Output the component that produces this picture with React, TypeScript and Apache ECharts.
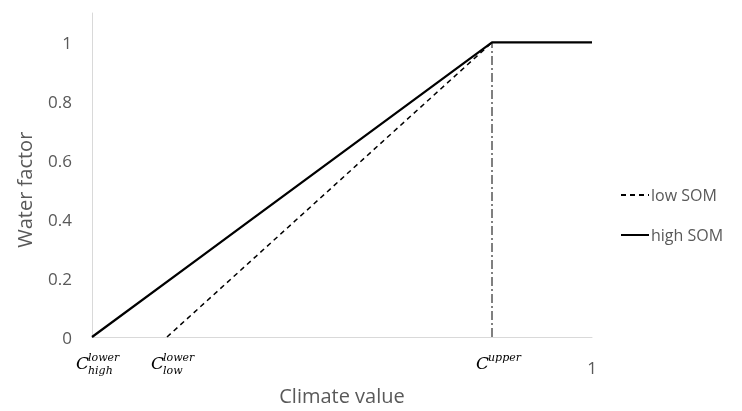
import React, { useEffect, useRef } from "react";
import * as echarts from "echarts";

const highSOM: [number, number][] = [[0, 0], [0.8, 1], [1, 1]];
const lowSOM: [number, number][] = [[0.15, 0], [0.8, 1]];
const upperLine: [number, number][] = [[0.8, 0], [0.8, 1]];
const cLabels = [
  { x: 0, sup: "lower", sub: "high" },
  { x: 0.15, sup: "lower", sub: "low" },
  { x: 0.8, sup: "upper", sub: "" },
];
const yTicks = [0, 0.2, 0.4, 0.6, 0.8, 1];
const xTicks = [1];
const yTitle = "Water factor";
const xTitle = "Climate value";

const GRAY = "#595959";
const FONT = "'Open Sans', 'Noto Sans', sans-serif";

export default function App() {
  const ref = useRef<HTMLDivElement>(null);
  useEffect(() => {
    if (!ref.current) return;
    const chart = echarts.init(ref.current, undefined, { renderer: "svg" });
    const option: any = {
      animation: false,
      textStyle: { fontFamily: FONT },
      grid: { left: 92, right: 150, top: 13, bottom: 74 },
      legend: {
        orient: "vertical",
        left: 615,
        top: 182,
        itemGap: 24,
        itemWidth: 28,
        itemHeight: 14,
        itemStyle: { opacity: 0 },
        textStyle: { color: GRAY, fontSize: 16, fontFamily: FONT, padding: [0, 0, 0, -3] },
        data: ["low SOM", "high SOM"],
      },
      xAxis: {
        type: "value",
        min: 0,
        max: 1,
        name: xTitle,
        nameLocation: "middle",
        nameGap: 48,
        nameTextStyle: { color: GRAY, fontSize: 20 },
        axisLine: { show: true, lineStyle: { color: "#d9d9d9", width: 1 } },
        axisTick: { show: false },
        splitLine: { show: false },
        axisLabel: {
          customValues: xTicks,
          margin: 22,
          color: GRAY,
          fontSize: 17,
          formatter: (v: number) => String(v),
        },
      },
      yAxis: {
        type: "value",
        min: 0,
        max: 1.1,
        interval: 0.2,
        axisLine: { show: true, lineStyle: { color: "#d9d9d9", width: 1 } },
        axisTick: { show: false },
        splitLine: { show: false },
        axisLabel: {
          customValues: yTicks,
          margin: 20,
          color: GRAY,
          fontSize: 17,
          formatter: (v: number) => String(Math.round(v * 10) / 10),
        },
      },
      series: [
        {
          name: "low SOM",
          type: "line",
          data: lowSOM,
          symbol: "none",
          lineStyle: { color: "#000", width: 1.5, type: [5, 4] },
          itemStyle: { color: "#000" },
          z: 3,
        },
        {
          name: "high SOM",
          type: "line",
          data: highSOM,
          symbol: "none",
          lineStyle: { color: "#000", width: 2.2 },
          itemStyle: { color: "#000" },
          z: 4,
        },
        {
          name: "upper",
          type: "line",
          data: upperLine,
          symbol: "none",
          lineStyle: { color: "#000", width: 1, type: [9, 3, 2, 3] },
          z: 2,
        },
      ],
    };
    chart.setOption(option);
    const graphics: any[] = [];
    const mid = chart.convertToPixel({ gridIndex: 0 }, [0, 0.5]) as number[];
    graphics.push({
      type: "text",
      x: mid[0] - 68,
      y: mid[1],
      rotation: Math.PI / 2,
      style: {
        text: yTitle,
        font: `20px ${FONT}`,
        fill: GRAY,
        align: "center",
        verticalAlign: "middle",
      },
    });
    cLabels.forEach((c) => {
      const p = chart.convertToPixel({ gridIndex: 0 }, [c.x, 0]) as number[];
      const cx = p[0] - 16;
      const cy = p[1] + 26;
      graphics.push({
        type: "text",
        x: cx,
        y: cy,
        style: {
          text: "C",
          font: "italic 17px 'DejaVu Serif', serif",
          fill: "#000",
          verticalAlign: "middle",
          align: "left",
        },
      });
      graphics.push({
        type: "text",
        x: cx + 12,
        y: cy - 6,
        style: {
          text: c.sup,
          font: "italic 11px 'DejaVu Serif', serif",
          fill: "#000",
          verticalAlign: "middle",
          align: "left",
        },
      });
      if (c.sub) {
        graphics.push({
          type: "text",
          x: cx + 12,
          y: cy + 7,
          style: {
            text: c.sub,
            font: "italic 11px 'DejaVu Serif', serif",
            fill: "#000",
            verticalAlign: "middle",
            align: "left",
          },
        });
      }
    });
    option.graphic = graphics;
    chart.setOption(option, true);
    return () => chart.dispose();
  }, []);
  return (
    <div
      ref={ref}
      style={{ position: "fixed", left: 0, top: 0, width: 742, height: 411 }}
    />
  );
}
